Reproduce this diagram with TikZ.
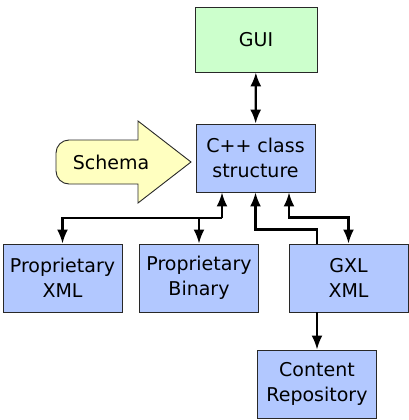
\documentclass[tikz,border=0pt]{standalone}
\usepackage{fontspec}
\setmainfont{DejaVu Sans}
\usetikzlibrary{arrows.meta}
\definecolor{boxblue}{RGB}{178,200,255}
\definecolor{guigreen}{RGB}{204,255,204}
\definecolor{schemayellow}{RGB}{255,255,192}
\definecolor{edgegray}{RGB}{40,40,40}
\begin{document}
\begin{tikzpicture}[x=1pt,y=-1pt]
\tikzstyle{box}=[draw=edgegray,line width=0.9pt,fill=boxblue,minimum width=119pt,minimum height=68pt,inner sep=0pt,align=center,font=\fontsize{19}{25}\selectfont];
\tikzstyle{link}=[line width=2.2pt,{Latex[length=14pt,width=11pt]}-{Latex[length=14pt,width=11pt]}];
\tikzstyle{onelink}=[line width=2.2pt,-{Latex[length=14pt,width=11pt]}];
\useasboundingbox (0,0) rectangle (409,420);
% boxes
\node[box,fill=guigreen,minimum width=122pt,minimum height=65pt] (gui) at (256,39.5) {GUI};
\node[box] (cpp) at (255.5,158) {C++ class\\structure};
\node[box] (pxml) at (62.5,278) {Proprietary\\XML};
\node[box] (pbin) at (199,278) {Proprietary\\Binary};
\node[box] (gxl) at (348.5,278) {GXL\\XML};
\node[box] (repo) at (317,384) {Content\\Repository};
% schema arrow
\draw[draw=edgegray,line width=0.9pt,fill=schemayellow]
(100,140) [rounded corners=13pt] -- (56,140) -- (56,184) -- (100,184) [sharp corners]
-- (138,184) -- (138,203) -- (191,162) -- (138,121) -- (138,140) -- cycle;
\node[draw=none,font=\fontsize{19}{25}\selectfont] (schema) at (111,162) {Schema};
% connectors
\draw[link] (gui) -- (cpp);
\coordinate (fork) at (222,218);
\draw[onelink] (fork) -- (cpp.south -| fork);
\draw[onelink] (fork) -| (pxml);
\draw[onelink] (fork) -| (pbin);
\coordinate (gxltap) at ([xshift=-31.5pt]gxl.north);
\draw[onelink] (gxltap) -- ++(0,-14) -| (cpp.south);
\draw[link] ([xshift=33.5pt]cpp.south) -- ++(0,25) -| (gxl.north);
\draw[onelink] (gxl.south -| repo) -- (repo);
\end{tikzpicture}
\end{document}
